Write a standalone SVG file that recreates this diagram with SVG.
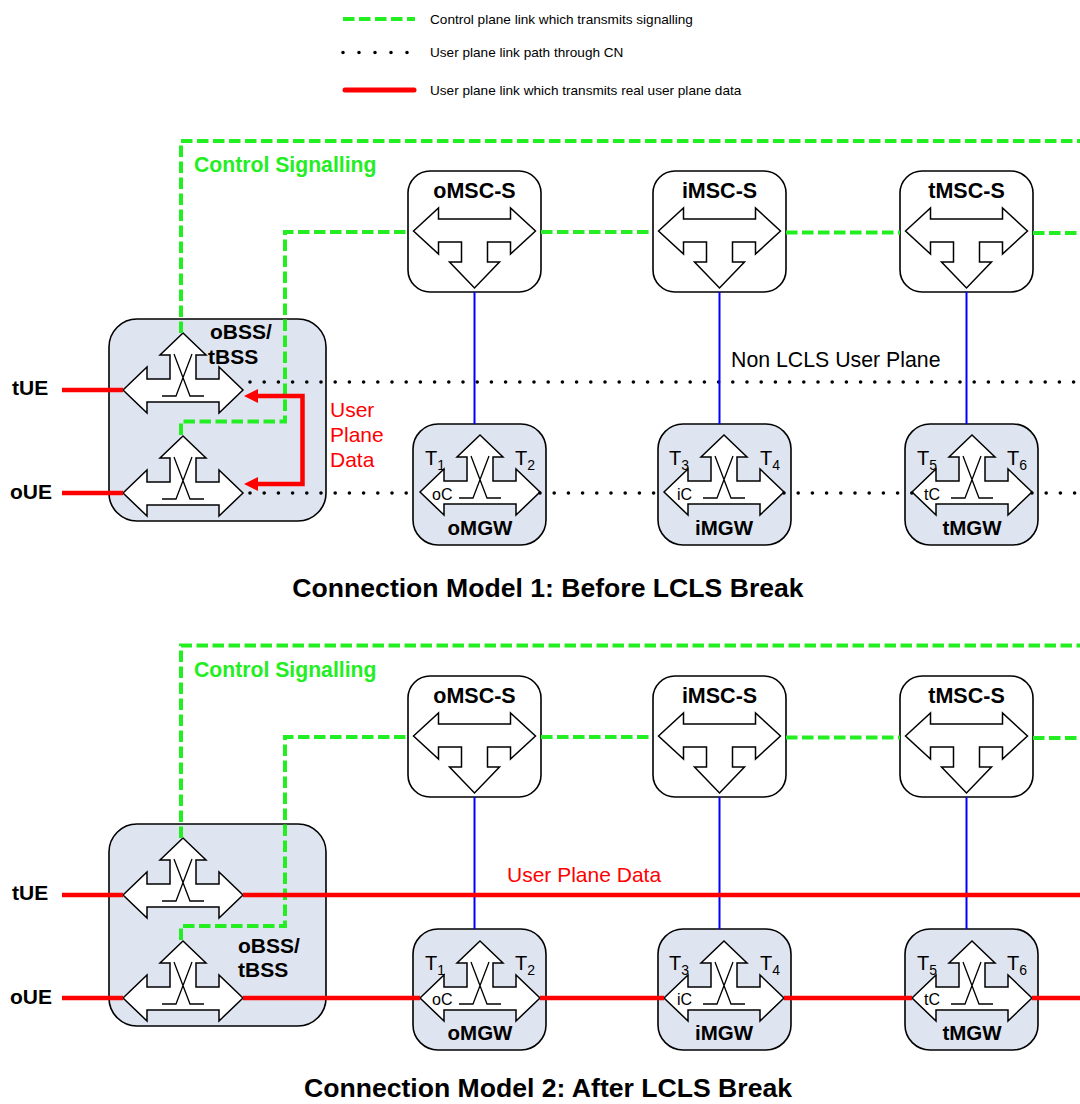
<svg xmlns="http://www.w3.org/2000/svg" width="1080" height="1104" viewBox="0 0 1080 1104">
<style>
.bg{fill:#ffffff}
.msc{fill:#ffffff;stroke:#000000;stroke-width:1.6}
.gw{fill:#dfe5f0;stroke:#000000;stroke-width:1.6}
.sym{fill:#ffffff;stroke:#000000;stroke-width:1.5;stroke-linejoin:miter}
.xl{fill:none;stroke:#000000;stroke-width:1.3}
.green{fill:none;stroke:#22ee22;stroke-width:4;stroke-dasharray:11.5 4.5}
.dots{fill:none;stroke:#000000;stroke-width:3.6;stroke-linecap:round;stroke-dasharray:0 14.2}
.red{fill:none;stroke:#ff0000;stroke-width:4.5}
.blue{fill:none;stroke:#0000ff;stroke-width:2}
.arrowhead{fill:#ff0000}
text{font-family:"Liberation Sans",Arial,sans-serif;fill:#000000}
.lbl{font-size:21.5px;font-weight:bold;text-anchor:middle}
.gwl{font-size:20.5px;font-weight:bold;text-anchor:middle}
.bss{font-size:21px;font-weight:bold}
.ue{font-size:21px;font-weight:bold}
.t{font-size:20px}
.c{font-size:16px}
.leg{font-size:13.6px}
.title{font-size:26.6px;font-weight:bold;text-anchor:middle}
.gtxt{font-size:21.2px;font-weight:bold;fill:#22ee22}
.rtxt{font-size:21px;fill:#ff0000}
.ntxt{font-size:21.3px}
</style>
<defs>
<g id="sym3">
<path class="sym" d="M -60,0 L -36,-23 L -36,-11 L -13,-11 L -13,-35 L -23,-35 L 0,-57 L 23,-35 L 13,-35 L 13,-11 L 36,-11 L 36,-23 L 60,0 L 36,23 L 36,12 L -36,12 L -36,23 Z"/>
<path class="xl" d="M -21,6 H -7 L 9,-36 M -9,-36 L 7,6 H 21"/>
</g>
<g id="symM">
<path class="sym" d="M -61,0 L -36,-23 L -36,-12 L 36,-12 L 36,-23 L 61,0 L 36,23 L 36,11 L 13,11 L 13,31 L 25,31 L 0,57 L -25,31 L -13,31 L -13,11 L -36,11 L -36,23 Z"/>
</g>
</defs>
<rect class="bg" x="0" y="0" width="1080" height="1104"/>

<g id="legend">
<line class="green" x1="343" y1="19" x2="415" y2="19"/>
<text class="leg" x="430" y="23.5">Control plane link which transmits signalling</text>
<line class="dots" x1="343" y1="52.5" x2="408" y2="52.5" style="stroke-dasharray:0 16"/>
<text class="leg" x="430" y="57">User plane link path through CN</text>
<line class="red" x1="345" y1="90" x2="414" y2="90" style="stroke-linecap:round;stroke-width:5"/>
<text class="leg" x="430" y="95">User plane link which transmits real user plane data</text>
</g>

<!-- ===== Model 1 nodes ===== -->
<g id="bss1">
<rect class="gw" x="109" y="319" width="217" height="202" rx="28"/>
<use href="#sym3" x="183" y="390"/>
<use href="#sym3" x="183" y="493"/>
<text class="bss" x="210" y="339">oBSS/</text>
<text class="bss" x="208" y="364">tBSS</text>
</g>
<g id="omsc1">
<rect class="msc" x="408" y="171" width="133" height="121" rx="22"/>
<use href="#symM" x="474.5" y="231"/>
<text class="lbl" x="474.5" y="198">oMSC-S</text>
</g>
<g id="imsc1">
<rect class="msc" x="653" y="171" width="133" height="121" rx="22"/>
<use href="#symM" x="719.5" y="231"/>
<text class="lbl" x="719.5" y="198">iMSC-S</text>
</g>
<g id="tmsc1">
<rect class="msc" x="900" y="171" width="133" height="121" rx="22"/>
<use href="#symM" x="966.5" y="231"/>
<text class="lbl" x="966.5" y="198">tMSC-S</text>
</g>
<g id="omgw1">
<rect class="gw" x="413" y="424" width="133" height="121" rx="25"/>
<use href="#sym3" x="480" y="492"/>
<text class="t" x="425" y="465">T<tspan font-size="14" dy="5">1</tspan></text>
<text class="t" x="515" y="465">T<tspan font-size="14" dy="5">2</tspan></text>
<text class="c" x="432" y="500">oC</text>
<text class="gwl" x="480" y="535">oMGW</text>
</g>
<g id="imgw1">
<rect class="gw" x="658" y="424" width="133" height="121" rx="25"/>
<use href="#sym3" x="724" y="492"/>
<text class="t" x="669" y="465">T<tspan font-size="14" dy="5">3</tspan></text>
<text class="t" x="760" y="465">T<tspan font-size="14" dy="5">4</tspan></text>
<text class="c" x="677" y="500">iC</text>
<text class="gwl" x="724" y="535">iMGW</text>
</g>
<g id="tmgw1">
<rect class="gw" x="905" y="424" width="133" height="121" rx="25"/>
<use href="#sym3" x="972" y="492"/>
<text class="t" x="917" y="465">T<tspan font-size="14" dy="5">5</tspan></text>
<text class="t" x="1007" y="465">T<tspan font-size="14" dy="5">6</tspan></text>
<text class="c" x="924" y="500">tC</text>
<text class="gwl" x="972" y="535">tMGW</text>
</g>

<!-- ===== Model 2 nodes ===== -->
<g id="bss2">
<rect class="gw" x="109" y="824" width="217" height="202" rx="28"/>
<use href="#sym3" x="183" y="895"/>
<use href="#sym3" x="183" y="998"/>
<text class="bss" x="238" y="953">oBSS/</text>
<text class="bss" x="238" y="977">tBSS</text>
</g>
<g id="omsc2">
<rect class="msc" x="408" y="676" width="133" height="121" rx="22"/>
<use href="#symM" x="474.5" y="736"/>
<text class="lbl" x="474.5" y="703">oMSC-S</text>
</g>
<g id="imsc2">
<rect class="msc" x="653" y="676" width="133" height="121" rx="22"/>
<use href="#symM" x="719.5" y="736"/>
<text class="lbl" x="719.5" y="703">iMSC-S</text>
</g>
<g id="tmsc2">
<rect class="msc" x="900" y="676" width="133" height="121" rx="22"/>
<use href="#symM" x="966.5" y="736"/>
<text class="lbl" x="966.5" y="703">tMSC-S</text>
</g>
<g id="omgw2">
<rect class="gw" x="413" y="929" width="133" height="121" rx="25"/>
<use href="#sym3" x="480" y="998"/>
<text class="t" x="425" y="970">T<tspan font-size="14" dy="5">1</tspan></text>
<text class="t" x="515" y="970">T<tspan font-size="14" dy="5">2</tspan></text>
<text class="c" x="432" y="1005">oC</text>
<text class="gwl" x="480" y="1040">oMGW</text>
</g>
<g id="imgw2">
<rect class="gw" x="658" y="929" width="133" height="121" rx="25"/>
<use href="#sym3" x="724" y="998"/>
<text class="t" x="669" y="970">T<tspan font-size="14" dy="5">3</tspan></text>
<text class="t" x="760" y="970">T<tspan font-size="14" dy="5">4</tspan></text>
<text class="c" x="677" y="1005">iC</text>
<text class="gwl" x="724" y="1040">iMGW</text>
</g>
<g id="tmgw2">
<rect class="gw" x="905" y="929" width="133" height="121" rx="25"/>
<use href="#sym3" x="972" y="998"/>
<text class="t" x="917" y="970">T<tspan font-size="14" dy="5">5</tspan></text>
<text class="t" x="1007" y="970">T<tspan font-size="14" dy="5">6</tspan></text>
<text class="c" x="924" y="1005">tC</text>
<text class="gwl" x="972" y="1040">tMGW</text>
</g>

<!-- ===== connectors ===== -->
<g id="connectors">
<!-- model 1 -->
<path class="green" d="M 181,333 V 141 H 1080"/>
<path class="green" d="M 181,435 V 421.5 H 285 V 232 H 408"/>
<path class="green" d="M 541,232 H 653"/>
<path class="green" d="M 786,232.5 H 900"/>
<path class="green" d="M 1033,233 H 1080"/>
<path class="dots" d="M 250,382 H 1080"/>
<path class="dots" d="M 250,493 H 420"/>
<path class="dots" d="M 540,493 H 664"/>
<path class="dots" d="M 784,493 H 912"/>
<path class="dots" d="M 1032,493 H 1080"/>
<path class="blue" d="M 474.5,292 V 424 M 719.5,292 V 424 M 966.5,292 V 424"/>
<path class="red" d="M 62,390 H 123 M 62,493 H 123"/>
<path class="red" d="M 256,396 H 302.5 V 484 H 256"/>
<polygon class="arrowhead" points="244,396 258,389 258,403"/>
<polygon class="arrowhead" points="244,484 258,477 258,491"/>
<!-- model 2 -->
<path class="green" d="M 181,838 V 645.5 H 1080"/>
<path class="green" d="M 181,940 V 926 H 285 V 737 H 408"/>
<path class="green" d="M 541,737 H 653"/>
<path class="green" d="M 786,737.5 H 900"/>
<path class="green" d="M 1033,738 H 1080"/>
<path class="blue" d="M 474.5,797 V 929 M 719.5,797 V 929 M 966.5,797 V 929"/>
<path class="red" d="M 62,895 H 123 M 243,895 H 1080"/>
<path class="red" d="M 62,998 H 123 M 243,998 H 420 M 540,998 H 664 M 784,998 H 912 M 1032,998 H 1080"/>
</g>

<g id="labels">
<text class="gtxt" x="194" y="172">Control Signalling</text>
<text class="ntxt" x="731" y="367">Non LCLS User Plane</text>
<text class="rtxt" x="330" y="417">User</text>
<text class="rtxt" x="330" y="442">Plane</text>
<text class="rtxt" x="330" y="467">Data</text>
<text class="ue" x="12" y="395">tUE</text>
<text class="ue" x="10" y="499">oUE</text>
<text class="title" x="548" y="597">Connection Model 1: Before LCLS Break</text>
<text class="gtxt" x="194" y="677">Control Signalling</text>
<text class="rtxt" x="507" y="882">User Plane Data</text>
<text class="ue" x="12" y="900">tUE</text>
<text class="ue" x="10" y="1004">oUE</text>
<text class="title" x="548" y="1097">Connection Model 2: After LCLS Break</text>
</g>
</svg>
